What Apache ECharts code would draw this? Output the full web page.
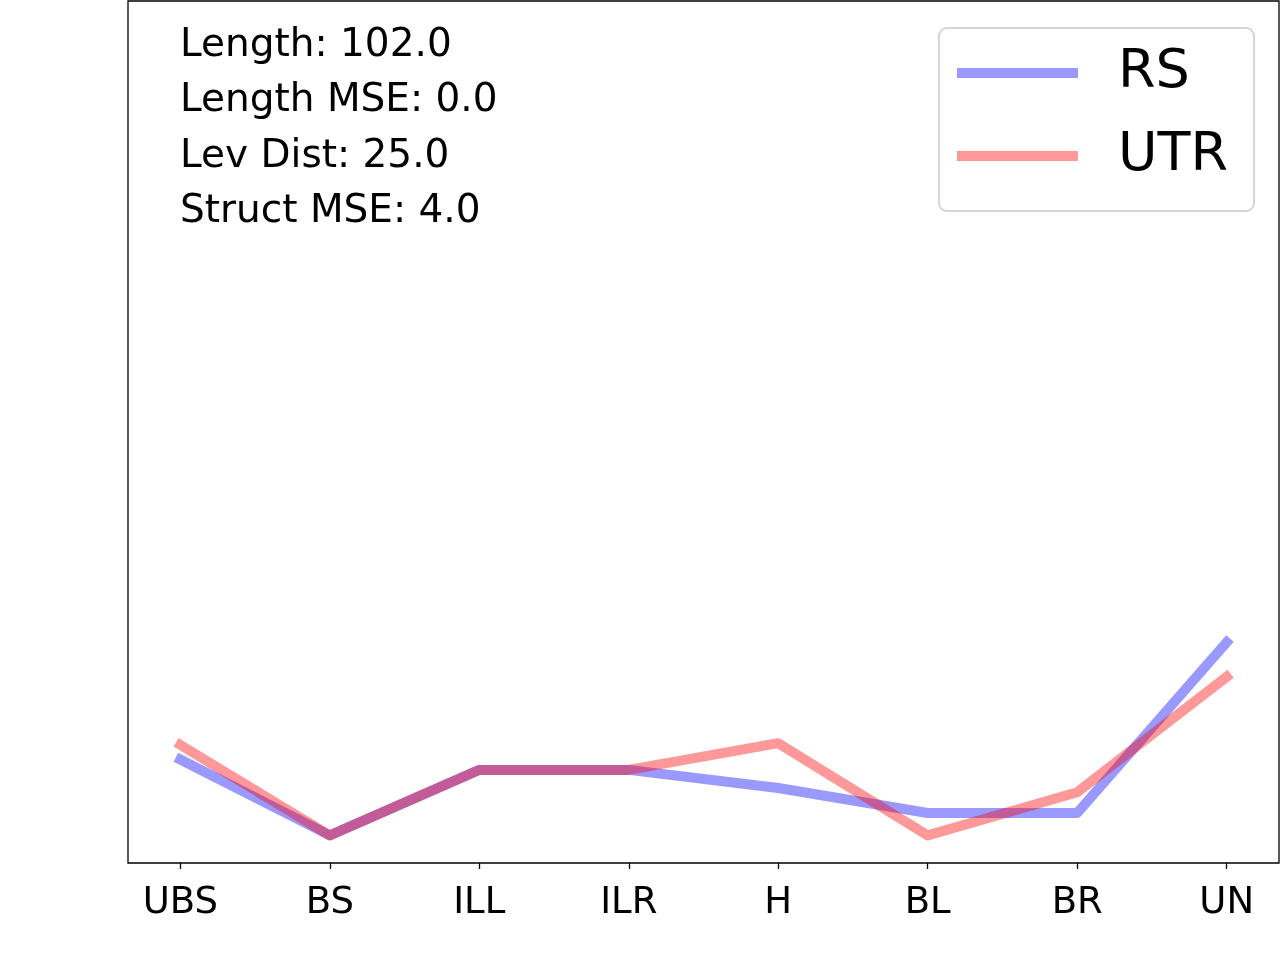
<!DOCTYPE html>
<html>
<head>
<meta charset="utf-8">
<script src="https://cdn.jsdelivr.net/npm/echarts@6/dist/echarts.min.js"></script>
<style>html,body{margin:0;padding:0;background:#fff}#c{width:1280px;height:960px}</style>
</head>
<body>
<div id="c"></div>
<script>
var categories = ['UBS', 'BS', 'ILL', 'ILR', 'H', 'BL', 'BR', 'UN'];
var rsValues = [12.0, 3.2, 10.8, 10.8, 8.7, 5.8, 5.8, 25.6];
var utrValues = [13.7, 3.2, 10.8, 10.8, 13.9, 3.2, 8.2, 21.6];
var seriesNames = ['RS', 'UTR'];
var statLabels = ['Length: 102.0', 'Length MSE: 0.0', 'Lev Dist: 25.0', 'Struct MSE: 4.0'];

var FONT = 'DejaVu Sans';
function pairs(vals) { return vals.map(function (v, i) { return [i, v]; }); }
var tickIdx = categories.map(function (c, i) { return i; });

var chart = echarts.init(document.getElementById('c'), null, { renderer: 'canvas' });
chart.setOption({
  animation: false,
  backgroundColor: '#fff',
  grid: { left: 128, right: 1, top: 1, bottom: 97, show: true, borderColor: '#000', borderWidth: 1.3, backgroundColor: 'transparent' },
  xAxis: {
    type: 'value', min: -0.35, max: 7.35,
    splitLine: { show: false },
    axisLine: { show: false },
    axisTick: { show: true, customValues: tickIdx, length: 6, lineStyle: { color: '#000', width: 1.3 } },
    axisLabel: {
      customValues: tickIdx, color: '#000', fontFamily: FONT, fontSize: 37, margin: 22,
      formatter: function (v) { return categories[Math.round(v)]; }
    }
  },
  yAxis: { type: 'value', min: 0, max: 100, show: false },
  legend: {
    left: 939, top: 28, orient: 'vertical',
    data: seriesNames,
    icon: 'rect', itemWidth: 121, itemHeight: 10, itemGap: 21,
    padding: [14, 26, 24, 18],
    borderColor: '#d6d6d6', borderWidth: 2, borderRadius: 8,
    backgroundColor: 'rgba(255,255,255,0.8)',
    textStyle: { fontFamily: FONT, fontSize: 54, color: '#000', lineHeight: 54, padding: [8, 0, 0, 35] }
  },
  graphic: statLabels.map(function (t, i) {
    return { type: 'text', left: 180, top: 26 + i * 55.5, style: { text: t, font: '39px "DejaVu Sans"', fill: '#000' } };
  }),
  series: [
    { name: seriesNames[0], type: 'line', data: pairs(rsValues), symbol: 'none',
      itemStyle: { color: '#9999ff' },
      lineStyle: { color: 'rgba(0,0,255,0.4)', width: 10, cap: 'square', join: 'round' } },
    { name: seriesNames[1], type: 'line', data: pairs(utrValues), symbol: 'none',
      itemStyle: { color: '#ff9999' },
      lineStyle: { color: 'rgba(255,0,0,0.4)', width: 10, cap: 'square', join: 'round' } }
  ]
});
</script>
</body>
</html>
